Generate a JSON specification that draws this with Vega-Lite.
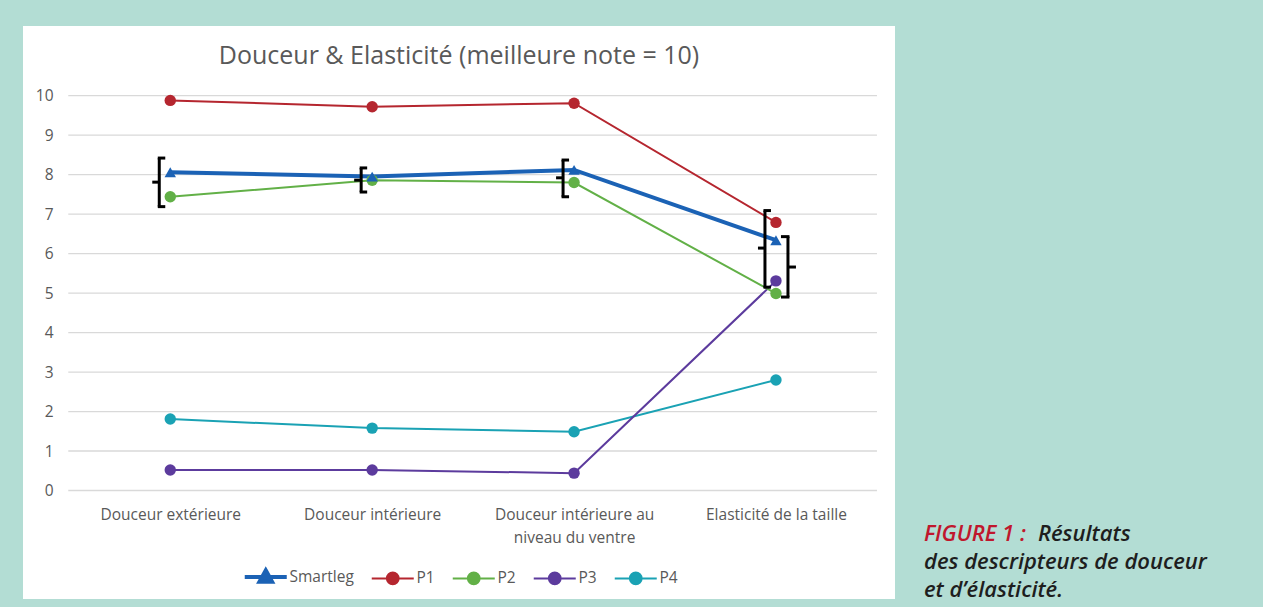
{
  "$schema": "https://vega.github.io/schema/vega-lite/v6.json",
  "background": "#b3ddd4",
  "padding": {"left": 23, "top": 26, "right": 0, "bottom": 8},
  "spacing": 29,
  "config": {"view": {"stroke": null}, "font": "Open Sans"},
  "datasets": {
    "scores": [
      {"critere": "Douceur extérieure", "serie": "P4", "note": 1.81},
      {"critere": "Douceur intérieure", "serie": "P4", "note": 1.58},
      {"critere": "Douceur intérieure au niveau du ventre", "serie": "P4", "note": 1.49},
      {"critere": "Elasticité de la taille", "serie": "P4", "note": 2.8},
      {"critere": "Douceur extérieure", "serie": "P3", "note": 0.52},
      {"critere": "Douceur intérieure", "serie": "P3", "note": 0.52},
      {"critere": "Douceur intérieure au niveau du ventre", "serie": "P3", "note": 0.44},
      {"critere": "Elasticité de la taille", "serie": "P3", "note": 5.31},
      {"critere": "Douceur extérieure", "serie": "P2", "note": 7.44},
      {"critere": "Douceur intérieure", "serie": "P2", "note": 7.86},
      {"critere": "Douceur intérieure au niveau du ventre", "serie": "P2", "note": 7.8},
      {"critere": "Elasticité de la taille", "serie": "P2", "note": 4.99},
      {"critere": "Douceur extérieure", "serie": "P1", "note": 9.88},
      {"critere": "Douceur intérieure", "serie": "P1", "note": 9.72},
      {"critere": "Douceur intérieure au niveau du ventre", "serie": "P1", "note": 9.81},
      {"critere": "Elasticité de la taille", "serie": "P1", "note": 6.79},
      {"critere": "Douceur extérieure", "serie": "Smartleg", "note": 8.06},
      {"critere": "Douceur intérieure", "serie": "Smartleg", "note": 7.95},
      {"critere": "Douceur intérieure au niveau du ventre", "serie": "Smartleg", "note": 8.12},
      {"critere": "Elasticité de la taille", "serie": "Smartleg", "note": 6.34}
    ],
    "accolades": [
      {"critere": "Douceur extérieure", "cote": "gauche", "bas": 7.19, "haut": 8.42, "milieu": 7.81},
      {"critere": "Douceur intérieure", "cote": "gauche", "bas": 7.56, "haut": 8.17, "milieu": 7.86},
      {"critere": "Douceur intérieure au niveau du ventre", "cote": "gauche", "bas": 7.44, "haut": 8.37, "milieu": 7.92},
      {"critere": "Elasticité de la taille", "cote": "gauche", "bas": 5.15, "haut": 7.09, "milieu": 6.14},
      {"critere": "Elasticité de la taille", "cote": "droite", "bas": 4.9, "haut": 6.43, "milieu": 5.66}
    ],
    "grille": [
      {"v": 0}, {"v": 1}, {"v": 2}, {"v": 3}, {"v": 4}, {"v": 5},
      {"v": 6}, {"v": 7}, {"v": 8}, {"v": 9}, {"v": 10}
    ],
    "legende": [
      {"ligne": 1, "partie": "numero", "texte": "FIGURE 1 :"},
      {"ligne": 1, "partie": "suite", "texte": "Résultats"},
      {"ligne": 2, "partie": "suite", "texte": "des descripteurs de douceur"},
      {"ligne": 3, "partie": "suite", "texte": "et d’élasticité."}
    ]
  },
  "hconcat": [
    {
      "width": 872,
      "height": 573,
      "view": {"fill": "white", "stroke": null},
      "title": {
        "text": "Douceur & Elasticité (meilleure note = 10)",
        "fontSize": 25,
        "font": "Open Sans",
        "fontWeight": "normal",
        "color": "#595959",
        "anchor": "middle",
        "offset": -43
      },
      "layer": [
        {
          "data": {"name": "grille"},
          "mark": {"type": "rule", "color": "#d9d9d9", "strokeWidth": 1.3, "xOffset": -102, "x2Offset": 101},
          "encoding": {
            "x": {"datum": "Douceur extérieure", "type": "nominal"},
            "x2": {"datum": "Elasticité de la taille"},
            "y": {"field": "v", "type": "quantitative"}
          }
        },
        {
          "data": {"name": "scores"},
          "mark": {"type": "line"},
          "encoding": {
            "x": {
              "field": "critere", "type": "nominal",
              "scale": {"type": "point", "domain": ["Douceur extérieure", "Douceur intérieure", "Douceur intérieure au niveau du ventre", "Elasticité de la taille"], "padding": 0.6595, "align": 0.553},
              "axis": {
                "title": null, "ticks": false, "tickSize": 0, "domain": false, "grid": false,
                "offset": -88, "labelPadding": 3, "labelFontSize": 15.5, "labelFont": "Open Sans",
                "labelColor": "#595959", "labelAngle": 0, "labelAlign": "center", "labelLineHeight": 23,
                "labelExpr": "datum.value === 'Douceur intérieure au niveau du ventre' ? ['Douceur intérieure au', 'niveau du ventre'] : datum.value"
              }
            },
            "y": {
              "field": "note", "type": "quantitative",
              "scale": {"domain": [-2.748, 11.765], "nice": false, "zero": false},
              "axis": {
                "title": null, "values": [0, 1, 2, 3, 4, 5, 6, 7, 8, 9, 10],
                "ticks": false, "tickSize": 0, "domain": false, "grid": false,
                "offset": -32, "labelPadding": 2, "labelFontSize": 15.5, "labelFont": "Open Sans",
                "labelColor": "#595959"
              }
            },
            "color": {
              "field": "serie", "type": "nominal",
              "scale": {"domain": ["Smartleg", "P1", "P2", "P3", "P4"], "range": ["#1b62b5", "#b5262f", "#62b047", "#5c3b9d", "#1aa2b4"]},
              "legend": {
                "title": null, "orient": "none", "direction": "horizontal", "columns": 5,
                "legendX": 235, "legendY": 543,
                "symbolType": "M-1,0H1M-0.28,0A0.28,0.28,0,1,1,0.28,0A0.28,0.28,0,1,1,-0.28,0Z", "symbolSize": 1764, "symbolStrokeWidth": 2,
                "labelFontSize": 15.5, "labelFont": "Open Sans", "labelColor": "#595959",
                "labelOffset": 16, "columnPadding": 13,
                "encode": {
                  "symbols": {
                    "update": {
                      "shape": {"signal": "datum.value === 'Smartleg' ? 'M-1,0H1M0,-0.32L0.3,0.22L-0.3,0.22Z' : 'M-1,0H1M-0.28,0A0.28,0.28,0,1,1,0.28,0A0.28,0.28,0,1,1,-0.28,0Z'"},
                      "fill": {"signal": "scale('color', datum.value)"},
                      "strokeWidth": {"signal": "datum.value === 'Smartleg' ? 4 : 2"}
                    }
                  }
                }
              }
            },
            "strokeWidth": {"condition": {"test": "datum.serie === 'Smartleg'", "value": 4}, "value": 2}
          }
        },
        {
          "data": {"name": "scores"},
          "transform": [{"filter": "datum.serie !== 'Smartleg'"}],
          "mark": {"type": "point", "shape": "circle", "filled": true, "size": 130, "opacity": 1},
          "encoding": {
            "x": {"field": "critere", "type": "nominal"},
            "y": {"field": "note", "type": "quantitative"},
            "color": {"field": "serie", "type": "nominal"}
          }
        },
        {
          "data": {"name": "scores"},
          "transform": [{"filter": "datum.serie === 'Smartleg'"}],
          "mark": {"type": "point", "shape": "triangle-up", "filled": true, "size": 130, "opacity": 1},
          "encoding": {
            "x": {"field": "critere", "type": "nominal"},
            "y": {"field": "note", "type": "quantitative"},
            "color": {"field": "serie", "type": "nominal"}
          }
        },
        {
          "data": {"name": "accolades"},
          "transform": [{"filter": "datum.cote === 'gauche'"}],
          "mark": {"type": "rule", "color": "black", "strokeWidth": 3, "xOffset": -11},
          "encoding": {
            "x": {"field": "critere", "type": "nominal"},
            "y": {"field": "bas", "type": "quantitative"},
            "y2": {"field": "haut"}
          }
        },
        {
          "data": {"name": "accolades"},
          "transform": [{"filter": "datum.cote === 'gauche'"}],
          "mark": {"type": "rule", "color": "black", "strokeWidth": 3, "xOffset": -12.5, "x2Offset": -5},
          "encoding": {
            "x": {"field": "critere", "type": "nominal"},
            "x2": {"field": "critere"},
            "y": {"field": "haut", "type": "quantitative"}
          }
        },
        {
          "data": {"name": "accolades"},
          "transform": [{"filter": "datum.cote === 'gauche'"}],
          "mark": {"type": "rule", "color": "black", "strokeWidth": 3, "xOffset": -12.5, "x2Offset": -5},
          "encoding": {
            "x": {"field": "critere", "type": "nominal"},
            "x2": {"field": "critere"},
            "y": {"field": "bas", "type": "quantitative"}
          }
        },
        {
          "data": {"name": "accolades"},
          "transform": [{"filter": "datum.cote === 'gauche'"}],
          "mark": {"type": "rule", "color": "black", "strokeWidth": 3, "xOffset": -11, "x2Offset": -18},
          "encoding": {
            "x": {"field": "critere", "type": "nominal"},
            "x2": {"field": "critere"},
            "y": {"field": "milieu", "type": "quantitative"}
          }
        },
        {
          "data": {"name": "accolades"},
          "transform": [{"filter": "datum.cote === 'droite'"}],
          "mark": {"type": "rule", "color": "black", "strokeWidth": 3, "xOffset": 12},
          "encoding": {
            "x": {"field": "critere", "type": "nominal"},
            "y": {"field": "bas", "type": "quantitative"},
            "y2": {"field": "haut"}
          }
        },
        {
          "data": {"name": "accolades"},
          "transform": [{"filter": "datum.cote === 'droite'"}],
          "mark": {"type": "rule", "color": "black", "strokeWidth": 3, "xOffset": 13.5, "x2Offset": 5},
          "encoding": {
            "x": {"field": "critere", "type": "nominal"},
            "x2": {"field": "critere"},
            "y": {"field": "haut", "type": "quantitative"}
          }
        },
        {
          "data": {"name": "accolades"},
          "transform": [{"filter": "datum.cote === 'droite'"}],
          "mark": {"type": "rule", "color": "black", "strokeWidth": 3, "xOffset": 13.5, "x2Offset": 5},
          "encoding": {
            "x": {"field": "critere", "type": "nominal"},
            "x2": {"field": "critere"},
            "y": {"field": "bas", "type": "quantitative"}
          }
        },
        {
          "data": {"name": "accolades"},
          "transform": [{"filter": "datum.cote === 'droite'"}],
          "mark": {"type": "rule", "color": "black", "strokeWidth": 3, "xOffset": 12, "x2Offset": 20},
          "encoding": {
            "x": {"field": "critere", "type": "nominal"},
            "x2": {"field": "critere"},
            "y": {"field": "milieu", "type": "quantitative"}
          }
        }
      ]
    },
    {
      "width": 339,
      "height": 573,
      "view": {"stroke": null},
      "data": {"name": "legende"},
      "encoding": {
        "x": {"datum": 0, "type": "quantitative", "scale": {"domain": [0, 1]}, "axis": null},
        "y": {"field": "ligne", "type": "quantitative", "scale": {"domain": [-17.39, 3.07], "reverse": true, "nice": false, "zero": false}, "axis": null},
        "text": {"field": "texte"}
      },
      "layer": [
        {
          "transform": [{"filter": "datum.partie === 'numero'"}],
          "mark": {"type": "text", "align": "left", "baseline": "alphabetic", "font": "Open Sans", "fontStyle": "italic", "fontWeight": 600, "fontSize": 22, "color": "#c0172d"}
        },
        {
          "transform": [{"filter": "datum.partie === 'suite' && datum.ligne === 1"}],
          "mark": {"type": "text", "align": "left", "baseline": "alphabetic", "font": "Open Sans", "fontStyle": "italic", "fontWeight": 600, "fontSize": 22, "color": "#1e1e1e", "dx": 114}
        },
        {
          "transform": [{"filter": "datum.partie === 'suite' && datum.ligne > 1"}],
          "mark": {"type": "text", "align": "left", "baseline": "alphabetic", "font": "Open Sans", "fontStyle": "italic", "fontWeight": 600, "fontSize": 22, "color": "#1e1e1e"}
        }
      ]
    }
  ]
}
